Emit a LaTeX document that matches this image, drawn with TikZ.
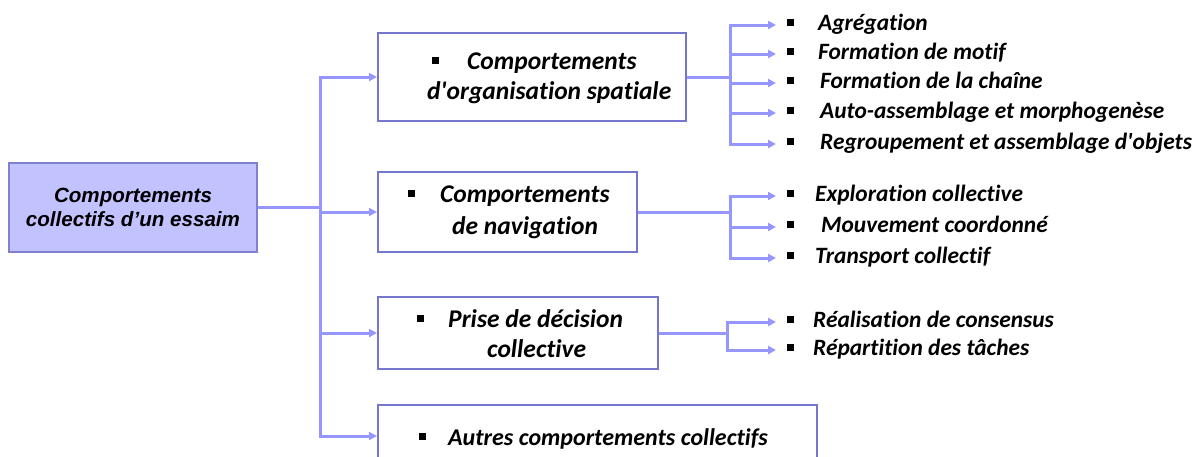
\documentclass[tikz,border=0pt]{standalone}
\usepackage{fontspec}
\setmainfont{Carlito}[Ligatures={NoCommon,NoDiscretionary}]
\newfontfamily\arialfont{Liberation Sans}
\usetikzlibrary{arrows.meta}
\definecolor{link}{RGB}{150,150,255}
\definecolor{frame}{RGB}{118,118,204}
\definecolor{mainfill}{RGB}{194,194,255}
\definecolor{mainframe}{RGB}{128,128,208}
% square bullet followed by a gap
\newcommand{\sqbul}[1]{\rule[5pt]{7pt}{7pt}\hspace*{#1pt}}
\begin{document}
\begin{tikzpicture}[x=1pt,y=-1pt,
  conn/.style={draw=link, line width=3pt},
  arr/.style={conn, -{Triangle[length=8pt,width=8pt]}},
  box/.style={draw=frame, line width=2pt, inner sep=0pt},
  mainbox/.style={box, draw=mainframe, fill=mainfill, align=center,
    font=\arialfont\fontsize{20.6}{24}\selectfont\bfseries\itshape},
  boxtext/.style={anchor=base west, inner sep=0pt,
    font=\fontsize{25.5}{30}\selectfont\bfseries\itshape},
  item/.style={anchor=west, inner xsep=11pt, inner ysep=0pt,
    text height=15pt, text depth=4pt,
    font=\fontsize{23.4}{28}\selectfont\bfseries\itshape},
]
\useasboundingbox (0,0) rectangle (1194,456);
\clip (0,0) rectangle (1194,456);

% root
\node[mainbox, minimum width=248pt, minimum height=89pt] (m) at (133,207.5)
  {Comportements\\collectifs d’un essaim};

% category boxes
\node[box, minimum width=308pt, minimum height=88pt] (b1) at (532,77) {};
\node[box, minimum width=259pt, minimum height=80pt] (b2) at (507.5,212) {};
\node[box, minimum width=280pt, minimum height=72pt] (b3) at (518,333) {};
\node[box, minimum width=439pt, minimum height=62pt] (b4) at (597.5,436) {};

\node[boxtext] (t1a) at (432,69) {\sqbul{28}Comportements};
\node[boxtext] (t1b) at (427,99) {d\textquotesingle organisation spatiale};
\node[boxtext] (t2a) at (408,202) {\sqbul{25}Comportements};
\node[boxtext] (t2b) at (452,234) {de navigation};
\node[boxtext] (t3a) at (417,327) {\sqbul{24}Prise de décision};
\node[boxtext] (t3b) at (487,357) {collective};
\node[boxtext, font=\fontsize{24}{28}\selectfont\bfseries\itshape] (t4a)
  at (419,445) {\sqbul{22}Autres comportements collectifs};

% leaf items
\node[item] (i11) at (776,25)  {\sqbul{24}Agrégation};
\node[item] (i12) at (776,54)  {\sqbul{24}Formation de motif};
\node[item] (i13) at (776,83)  {\sqbul{26}Formation de la chaîne};
\node[item] (i14) at (776,113) {\sqbul{26}Auto-assemblage et morphogenèse};
\node[item] (i15) at (776,144) {\sqbul{26}Regroupement et assemblage d\textquotesingle objets};

\node[item] (i21) at (776,196) {\sqbul{21}Exploration collective};
\node[item] (i22) at (776,227) {\sqbul{27}Mouvement coordonné};
\node[item] (i23) at (776,258) {\sqbul{21}Transport collectif};

\node[item] (i31) at (776,322) {\sqbul{19}Réalisation de consensus};
\node[item] (i32) at (776,350) {\sqbul{19}Répartition des tâches};

% branch points
\coordinate (tr) at (320,0);
\coordinate (f1) at (730,0);
\coordinate (f2) at (730,0);
\coordinate (f3) at (727,0);

% root to categories
\draw[conn] (m.east) -- (m.east -| tr);
\draw[arr] (b4.west -| tr) |- (b1.west);
\draw[arr] (b1.west -| tr) |- (b4.west);
\draw[arr] (b2.west -| tr) -- (b2.west);
\draw[arr] (b3.west -| tr) -- (b3.west);

% spatial organisation
\draw[conn] (b1.east) -- (b1.east -| f1);
\draw[arr] (i15.west -| f1) |- (i11.west);
\draw[arr] (i11.west -| f1) |- (i15.west);
\draw[arr] (i12.west -| f1) -- (i12.west);
\draw[arr] (i13.west -| f1) -- (i13.west);
\draw[arr] (i14.west -| f1) -- (i14.west);

% navigation
\draw[conn] (b2.east) -- (b2.east -| f2);
\draw[arr] (i23.west -| f2) |- (i21.west);
\draw[arr] (i21.west -| f2) |- (i23.west);
\draw[arr] (i22.west -| f2) -- (i22.west);

% collective decision
\draw[conn] (b3.east) -- (b3.east -| f3);
\draw[arr] (i32.west -| f3) |- (i31.west);
\draw[arr] (i31.west -| f3) |- (i32.west);
\end{tikzpicture}
\end{document}
